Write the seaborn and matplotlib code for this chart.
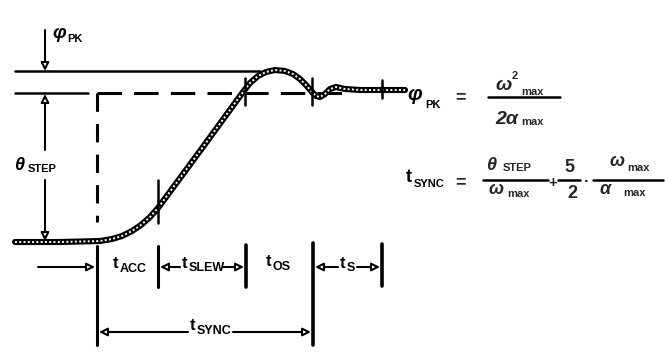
import numpy as np
import matplotlib
matplotlib.use('Agg')
import matplotlib.pyplot as plt
import seaborn as sns

# position response (pixel units)
curve_x = [15, 60, 100, 112, 122, 132, 141, 150, 158, 200, 243, 250, 258, 266, 275,
           285, 293, 300, 306, 312, 316, 320, 325, 330, 336, 345, 360, 405]
curve_y = [242, 242, 241, 239, 236, 231, 225, 217, 208, 151, 92, 83, 76, 72, 70,
           71, 74, 79, 85, 92, 96, 97, 94, 89, 87, 89, 90, 90]

# levels
pk_level = 71
target_level = 93
start_level = 242

# time marks along the curve
t_marks = [97, 158, 246, 313, 382]
seg_labels = ['ACC', 'SLEW', 'OS', 'S']

sns.set_style('white')
plt.rcParams['font.family'] = ['Liberation Sans', 'DejaVu Sans']

fig = plt.figure(figsize=(6.65, 3.61), dpi=100)
ax = fig.add_axes([0, 0, 1, 1])
ax.set_xlim(0, 665)
ax.set_ylim(361, 0)
ax.axis('off')

K = 'black'

# reference levels
ax.plot([15, 260], [pk_level, pk_level], color=K, lw=1.8)
ax.plot([15, 88], [target_level, target_level], color=K, lw=1.8)
ax.plot([t_marks[0], 345], [target_level, target_level], color=K, lw=2.2,
        dashes=(8, 4))
ax.plot([t_marks[0], t_marks[0]], [target_level, 222], color=K, lw=2.2,
        dashes=(6, 4))

# curve: black tube with white dots inside
sns.lineplot(x=curve_x, y=curve_y, ax=ax, color=K, lw=4.4, sort=False,
             estimator=None)
ax.plot(curve_x, curve_y, color='white', lw=1.4, dashes=(1, 1.2))

# ticks crossing the curve
ax.plot([t_marks[1]] * 2, [180, 223], color=K, lw=1.8)
ax.plot([t_marks[2] - 1] * 2, [78, 105], color=K, lw=1.8)
ax.plot([t_marks[3] - 1] * 2, [78, 105], color=K, lw=1.8)
ax.plot([t_marks[4]] * 2, [80, 98], color=K, lw=1.8)

# lower time marks
ax.plot([t_marks[0]] * 2, [246, 345], color=K, lw=2.2)
ax.plot([t_marks[1]] * 2, [246, 287], color=K, lw=2.2)
ax.plot([t_marks[2]] * 2, [245, 287], color=K, lw=2.6)
ax.plot([t_marks[3]] * 2, [243, 345], color=K, lw=2.6)
ax.plot([t_marks[4]] * 2, [244, 286], color=K, lw=2.6)


def arrow(x0, y0, x1, y1):
    ax.annotate('', xy=(x1, y1), xytext=(x0, y0),
                arrowprops=dict(arrowstyle='-|>', fc='white', ec=K, lw=1.5,
                                mutation_scale=12, shrinkA=0, shrinkB=0))


# phi_pk arrows
arrow(45, 30, 45, pk_level)
arrow(45, 150, 45, target_level + 1)
arrow(45, 180, 45, start_level - 1)

# time row arrows
ty = 267
arrow(38, ty, t_marks[0] - 2, ty)
arrow(180, ty, t_marks[1] + 2, ty)
arrow(223, ty, t_marks[2] - 2, ty)
arrow(338, ty, t_marks[3] + 2, ty)
arrow(357, ty, t_marks[4] - 2, ty)
arrow(188, 332, t_marks[0] + 2, 332)
arrow(233, 332, t_marks[3] - 2, 332)


def sub_label(x, y, main, sub, size=11, subsize=8, dy=5, gap=1, italic=False,
              bg=None, weight='bold'):
    t = ax.text(x, y, main, fontsize=size, ha='left', va='center',
                fontstyle='italic' if italic else 'normal', fontweight=weight,
                color=K)
    fig.canvas.draw()
    bb = t.get_window_extent()
    inv = ax.transData.inverted()
    xr = inv.transform((bb.x1, bb.y0))[0]
    s = ax.text(xr + gap, y + dy, sub, fontsize=subsize, ha='left',
                va='center', fontweight='bold', color=K)
    if bg:
        t.set_bbox(dict(fc='white', ec='none', pad=1))
        s.set_bbox(dict(fc='white', ec='none', pad=1))
    return xr


# left side labels
sub_label(52, 33, 'φ', 'PK', size=14, subsize=8, dy=6, gap=2, italic=True)
sub_label(14, 165, 'θ', 'STEP', size=13, subsize=8, dy=4, gap=4, italic=True,
          bg=True)

# segment labels
sub_label(113, 264, 't', seg_labels[0], size=12, subsize=9, dy=5)
sub_label(182, 263, 't', seg_labels[1], size=12, subsize=9, dy=5)
sub_label(266, 262, 't', seg_labels[2], size=12, subsize=9, dy=5)
sub_label(340, 263, 't', seg_labels[3], size=12, subsize=9, dy=5)
sub_label(190, 326, 't', 'SYNC', size=12, subsize=9, dy=5)

# formula: phi_pk
sub_label(407, 95, 'φ', 'PK', size=15, subsize=8, dy=10, gap=3, italic=True)
ax.text(460, 98, '=', fontsize=13, fontweight='bold', ha='center', va='center')
ax.plot([488, 560], [97, 97], color=K, lw=1.8)
ax.text(495, 85, 'ω', fontsize=14, fontstyle='italic', fontweight='bold',
        va='center')
ax.text(512, 76, '2', fontsize=8, fontweight='bold', va='center')
ax.text(521, 92, 'max', fontsize=8, fontweight='bold', va='center')
ax.text(495, 119, '2α', fontsize=14, fontstyle='italic', fontweight='bold',
        va='center')
ax.text(521, 122, 'max', fontsize=8, fontweight='bold', va='center')

# formula: t_sync
sub_label(406, 178, 't', 'SYNC', size=13, subsize=8, dy=6, gap=2)
ax.text(460, 183, '=', fontsize=13, fontweight='bold', ha='center', va='center')
ax.plot([483, 548], [180, 180], color=K, lw=1.8)
ax.text(486, 166, 'θ', fontsize=13, fontstyle='italic', fontweight='bold',
        va='center')
ax.text(503, 168, 'STEP', fontsize=8, fontweight='bold', va='center')
ax.text(489, 190, 'ω', fontsize=13, fontstyle='italic', fontweight='bold',
        va='center')
ax.text(507, 194, 'max', fontsize=8, fontweight='bold', va='center')
ax.text(553, 183, '+', fontsize=11, fontweight='bold', ha='center', va='center')
ax.plot([558, 580], [180, 180], color=K, lw=1.8)
ax.text(569, 167, '5', fontsize=13, fontweight='bold', ha='center', va='center')
ax.text(572, 193, '2', fontsize=13, fontweight='bold', ha='center', va='center')
ax.text(587, 181, '·', fontsize=12, fontweight='bold', ha='center', va='center')
ax.plot([593, 663], [180, 180], color=K, lw=1.8)
ax.text(610, 162, 'ω', fontsize=13, fontstyle='italic', fontweight='bold',
        va='center')
ax.text(627, 168, 'max', fontsize=8, fontweight='bold', va='center')
ax.text(599, 190, 'α', fontsize=13, fontstyle='italic', fontweight='bold',
        va='center')
ax.text(623, 193, 'max', fontsize=8, fontweight='bold', va='center')

fig.savefig('out.png', dpi=100, facecolor='white')
